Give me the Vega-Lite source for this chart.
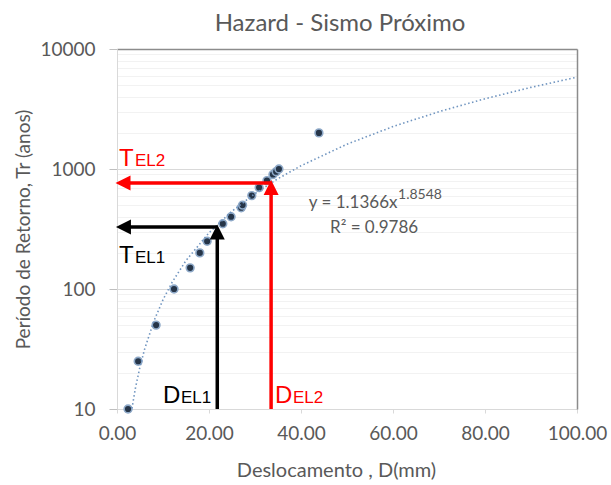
{
  "$schema": "https://vega.github.io/schema/vega-lite/v6.json",
  "width": 460,
  "height": 360,
  "autosize": "none",
  "padding": {"left": 117, "top": 49, "right": 34, "bottom": 76},
  "background": "#ffffff",
  "config": {"view": {"stroke": null}, "font": "Lato"},
  "title": {"text": "Hazard - Sismo Próximo", "font": "Lato", "fontSize": 24, "fontWeight": "normal", "color": "#595959", "offset": 4, "dx": -7},
  "datasets": {
    "points": [
      {"D": 2.4, "Tr": 10}, {"D": 4.6, "Tr": 25}, {"D": 8.5, "Tr": 50}, {"D": 12.4, "Tr": 100},
      {"D": 15.9, "Tr": 150}, {"D": 18.0, "Tr": 200}, {"D": 19.6, "Tr": 250}, {"D": 23.0, "Tr": 350},
      {"D": 24.8, "Tr": 400}, {"D": 27.0, "Tr": 475}, {"D": 27.3, "Tr": 500}, {"D": 29.3, "Tr": 600},
      {"D": 30.9, "Tr": 700}, {"D": 32.6, "Tr": 800}, {"D": 33.9, "Tr": 900}, {"D": 34.6, "Tr": 950},
      {"D": 35.2, "Tr": 1000}, {"D": 43.9, "Tr": 2000}
    ],
    "trend": [
      {"D": 3.25, "Tr": 10.1}, {"D": 4, "Tr": 14.9}, {"D": 5, "Tr": 22.5}, {"D": 6, "Tr": 31.5},
      {"D": 8, "Tr": 53.8}, {"D": 10, "Tr": 81.4}, {"D": 12, "Tr": 114.1}, {"D": 15, "Tr": 172.6},
      {"D": 20, "Tr": 294.2}, {"D": 25, "Tr": 445.0}, {"D": 30, "Tr": 624.3}, {"D": 35, "Tr": 830.9},
      {"D": 40, "Tr": 1064.4}, {"D": 50, "Tr": 1609.6}, {"D": 60, "Tr": 2257.8}, {"D": 70, "Tr": 3005.6},
      {"D": 80, "Tr": 3849.6}, {"D": 90, "Tr": 4789.0}, {"D": 100, "Tr": 5824}
    ],
    "shafts": [
      {"x": 1.5, "x2": 33.5, "y": 764, "y2": 764, "lvl": "EL2"},
      {"x": 33.5, "x2": 33.5, "y": 10, "y2": 702, "lvl": "EL2"},
      {"x": 1.5, "x2": 21.8, "y": 329, "y2": 329, "lvl": "EL1"},
      {"x": 21.8, "x2": 21.8, "y": 10, "y2": 299, "lvl": "EL1"}
    ],
    "heads": [
      {"x": 1.3, "y": 764, "dir": "left", "lvl": "EL2"},
      {"x": 33.5, "y": 702, "dir": "up", "lvl": "EL2"},
      {"x": 1.4, "y": 329, "dir": "left", "lvl": "EL1"},
      {"x": 21.8, "y": 299, "dir": "up", "lvl": "EL1"}
    ],
    "bigText": [
      {"x": 0.45, "y": 1059, "t": "T", "lvl": "EL2"},
      {"x": 0.45, "y": 164.7, "t": "T", "lvl": "EL1"},
      {"x": 10.0, "y": 11.22, "t": "D", "lvl": "EL1"},
      {"x": 34.35, "y": 11.22, "t": "D", "lvl": "EL2"}
    ],
    "subText": [
      {"x": 3.9, "y": 1059, "t": "EL2", "lvl": "EL2"},
      {"x": 3.9, "y": 164.7, "t": "EL1", "lvl": "EL1"},
      {"x": 13.9, "y": 11.22, "t": "EL1", "lvl": "EL1"},
      {"x": 38.26, "y": 11.22, "t": "EL2", "lvl": "EL2"}
    ],
    "eq": [
      {"x": 41.7, "y": 473, "t": "y = 1.1366x"},
      {"x": 46.3, "y": 293, "t": "R² = 0.9786"}
    ],
    "sup": [
      {"x": 61.1, "y": 562, "t": "1.8548"}
    ]
  },
  "resolve": {"axis": {"x": "independent", "y": "independent"}},
  "layer": [
    {
      "data": {"name": "points"},
      "mark": {"type": "point", "filled": true, "size": 60, "fill": "#263548", "stroke": "#8ea9c8", "strokeWidth": 1.6, "opacity": 1},
      "encoding": {
        "x": {"field": "D", "type": "quantitative",
          "scale": {"domain": [0, 100], "nice": false, "zero": false},
          "axis": {"orient": "bottom", "values": [0, 20, 40, 60, 80, 100], "format": ".2f", "grid": false, "labelFlush": false,
            "tickSize": 4, "tickColor": "#d9d9d9", "domainColor": "#d9d9d9",
            "labelFont": "Lato", "labelFontSize": 19, "labelColor": "#595959", "labelPadding": 11,
            "title": "Deslocamento , D(mm)", "titleFont": "Lato", "titleFontSize": 20, "titleFontWeight": "normal",
            "titleColor": "#595959", "titleX": 219, "titleY": 61, "titleBaseline": "middle", "titleAlign": "center"}},
        "y": {"field": "Tr", "type": "quantitative",
          "scale": {"type": "log", "domain": [10, 10000], "nice": false},
          "axis": {"orient": "left",
            "values": [10, 20, 30, 40, 50, 60, 70, 80, 90, 100, 200, 300, 400, 500, 600, 700, 800, 900, 1000, 2000, 3000, 4000, 5000, 6000, 7000, 8000, 9000, 10000],
            "labelExpr": "indexof([10, 100, 1000, 10000], datum.value) >= 0 ? datum.value : ''",
            "labelOverlap": false, "labelFlush": false,
            "grid": true,
            "gridColor": {"condition": {"test": "indexof([10, 100, 1000, 10000], datum.value) >= 0", "value": "#d9d9d9"}, "value": "#f2f2f2"},
            "tickOpacity": {"condition": {"test": "indexof([10, 100, 1000, 10000], datum.value) >= 0", "value": 1}, "value": 0},
            "tickSize": 8, "tickColor": "#bfbfbf", "domainColor": "#d9d9d9",
            "labelFont": "Lato", "labelFontSize": 19, "labelColor": "#595959", "labelPadding": 14,
            "title": "Período de Retorno, Tr (anos)", "titleFont": "Lato", "titleFontSize": 19, "titleFontWeight": "normal",
            "titleColor": "#595959", "titleX": -94, "titleY": 180, "titleAngle": -90, "titleAlign": "center", "titleBaseline": "middle"}}
      }
    },
    {
      "data": {"name": "trend"},
      "mark": {"type": "line", "color": "#7095c0", "strokeWidth": 1.6, "strokeDash": [1.5, 2.5], "clip": true},
      "encoding": {
        "x": {"field": "D", "type": "quantitative",
          "axis": {"orient": "top", "labels": false, "ticks": false, "grid": false, "domainColor": "#8c8c8c", "domainWidth": 1.5, "title": null}},
        "y": {"field": "Tr", "type": "quantitative",
          "axis": {"orient": "right", "labels": false, "ticks": false, "grid": false, "domainColor": "#8c8c8c", "domainWidth": 1.5, "title": null}}
      }
    },
    {
      "data": {"name": "shafts"},
      "mark": {"type": "rule", "strokeWidth": 3.5},
      "encoding": {
        "x": {"field": "x", "type": "quantitative", "axis": null},
        "x2": {"field": "x2"},
        "y": {"field": "y", "type": "quantitative", "axis": null},
        "y2": {"field": "y2"},
        "color": {"field": "lvl", "type": "nominal", "scale": {"domain": ["EL1", "EL2"], "range": ["#000000", "#ff0000"]}, "legend": null}
      }
    },
    {
      "data": {"name": "heads"},
      "mark": {"type": "point", "filled": true, "size": 225, "opacity": 1, "strokeWidth": 0},
      "encoding": {
        "x": {"field": "x", "type": "quantitative", "axis": null},
        "y": {"field": "y", "type": "quantitative", "axis": null},
        "shape": {"field": "dir", "type": "nominal", "scale": {"domain": ["left", "up"], "range": ["M-1,0L1,-1L1,1Z", "M0,-1L-1,1L1,1Z"]}, "legend": null},
        "color": {"field": "lvl", "type": "nominal", "scale": {"domain": ["EL1", "EL2"], "range": ["#000000", "#ff0000"]}, "legend": null}
      }
    },
    {
      "data": {"name": "bigText"},
      "mark": {"type": "text", "font": "Liberation Sans", "fontSize": 24, "align": "left", "baseline": "alphabetic"},
      "encoding": {
        "x": {"field": "x", "type": "quantitative", "axis": null},
        "y": {"field": "y", "type": "quantitative", "axis": null},
        "text": {"field": "t"},
        "color": {"field": "lvl", "type": "nominal", "scale": {"domain": ["EL1", "EL2"], "range": ["#000000", "#ff0000"]}, "legend": null}
      }
    },
    {
      "data": {"name": "subText"},
      "mark": {"type": "text", "font": "Liberation Sans", "fontSize": 17, "align": "left", "baseline": "alphabetic"},
      "encoding": {
        "x": {"field": "x", "type": "quantitative", "axis": null},
        "y": {"field": "y", "type": "quantitative", "axis": null},
        "text": {"field": "t"},
        "color": {"field": "lvl", "type": "nominal", "scale": {"domain": ["EL1", "EL2"], "range": ["#000000", "#ff0000"]}, "legend": null}
      }
    },
    {
      "data": {"name": "eq"},
      "mark": {"type": "text", "font": "Lato", "fontSize": 17, "align": "left", "baseline": "alphabetic", "color": "#595959"},
      "encoding": {
        "x": {"field": "x", "type": "quantitative", "axis": null},
        "y": {"field": "y", "type": "quantitative", "axis": null},
        "text": {"field": "t"}
      }
    },
    {
      "data": {"name": "sup"},
      "mark": {"type": "text", "font": "Lato", "fontSize": 14, "align": "left", "baseline": "alphabetic", "color": "#595959"},
      "encoding": {
        "x": {"field": "x", "type": "quantitative", "axis": null},
        "y": {"field": "y", "type": "quantitative", "axis": null},
        "text": {"field": "t"}
      }
    }
  ]
}
